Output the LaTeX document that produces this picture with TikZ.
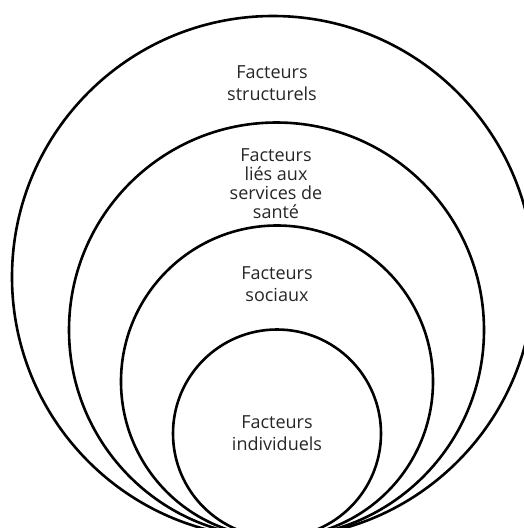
\documentclass[tikz,border=0pt]{standalone}
\usepackage{fontspec}
\setmainfont{Open Sans}
\usepackage{tikz}

\begin{document}
\begin{tikzpicture}[x=1pt, y=-1pt,
			ring/.style={circle, draw, line width=2.6pt, inner sep=0pt},
			lbl/.style={align=center, text=black!85, font=\fontsize{18}{22}\selectfont}]
			\useasboundingbox (0,0) rectangle (524,528);
			\clip (0,0) rectangle (524,528);
			
			%Cercles (du plus grand au plus petit)
			\node[ring, minimum size=522pt] (S)  at (273,277)   {};
			\node[ring, minimum size=415pt] (SS) at (276.5,330) {};
			\node[ring, minimum size=312pt] (So) at (277,381.5) {};
			\node[ring, minimum size=208pt] (I)  at (277,433.5) {};
			
			%Textes
			\node[lbl] (lS)  at (272,83)  {Facteurs\\structurels};
			\node[lbl, font=\fontsize{18}{19}\selectfont]
			           (lSS) at (276,184) {Facteurs\\liés aux\\services de\\santé};
			\node[lbl] (lSo) at (277,284) {Facteurs\\sociaux};
			\node[lbl] (lI)  at (277,433) {Facteurs\\individuels};
		\end{tikzpicture}
\end{document}
